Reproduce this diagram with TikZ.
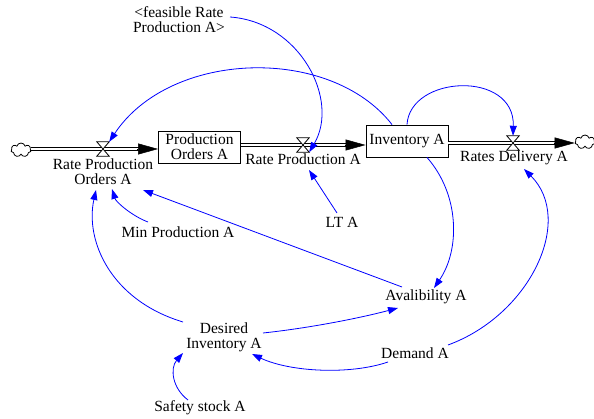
\documentclass[tikz,border=0pt]{standalone}
\usepackage{fontspec}
\setmainfont{Liberation Serif}
\usetikzlibrary{arrows.meta,shapes.symbols}
\definecolor{linkblue}{RGB}{0,0,255}
\tikzset{
  lbl/.style={font=\fontsize{15.5}{15}\selectfont, align=center, inner sep=0pt},
  stock/.style={lbl, draw, line width=0.9pt, fill=white, minimum width=82pt, minimum height=32pt},
  valve/.style={minimum width=12pt, minimum height=14pt, inner sep=0pt},
  pipe/.style={line width=0.9pt, double=white, double distance=1.8pt, shorten >=12pt},
  flowtip/.style={-{Triangle[length=20pt,width=11pt]}, line width=0.5pt},
  link/.style={draw=linkblue, line width=0.8pt, -{Triangle[length=10pt,width=7pt]}},
  source/.style={cloud, cloud puffs=7, draw, line width=0.8pt, fill=white,
    minimum width=20pt, minimum height=14pt, inner sep=0pt, aspect=1.5}
}
\begin{document}
\begin{tikzpicture}[x=1pt,y=-1pt]
\useasboundingbox (0,0) rectangle (594,419);

% stocks, clouds and valves
\node[stock] (pob) at (199.5,147) {Production\\Orders A};
\node[stock] (inv) at (407,141) {Inventory A};
\node[source] (srcL) at (21,150) {};
\node[source] (snkR) at (585,142) {};
\node[valve] (v1) at (103,149) {};
\node[valve] (v2) at (303,145) {};
\node[valve] (v3) at (513,143) {};

% flow pipes
\draw[pipe] (srcL.east |- v1) -- (pob.west |- v1);
\draw[flowtip] (pob.west |- v1) ++(-21,0) -- (pob.west |- v1);
\draw[pipe] (pob.east |- v2) -- (inv.west |- v2);
\draw[flowtip] (inv.west |- v2) ++(-21,0) -- (inv.west |- v2);
\draw[pipe] (inv.east |- v3) -- (snkR.west |- v3);
\draw[flowtip] (snkR.west |- v3) ++(-21,0) -- (snkR.west |- v3);

\foreach \v in {v1,v2,v3}
  \draw[line width=0.8pt, fill=white] (\v.north west) -- (\v.north east)
    -- (\v.south west) -- (\v.south east) -- cycle;

% variable names
\node[lbl] (rpo) at (103,172) {Rate Production\\Orders A};
\node[lbl] (rp) at (303,159) {Rate Production A};
\node[lbl] (rd) at (514,158) {Rates Delivery A};
\node[lbl] (feas) at (179,20) {<feasible Rate\\Production A>};
\node[lbl] (mp) at (178,232) {Min Production A};
\node[lbl] (lt) at (342,222) {LT A};
\node[lbl] (av) at (426,297) {Avalibility A};
\node[lbl] (di) at (224,337) {Desired\\Inventory A};
\node[lbl] (dem) at (415,353) {Demand A};
\node[lbl] (ss) at (200,408) {Safety stock A};

% causal links
\draw[link] ([shift={(51,-3)}]feas.center) .. controls (300,22) and (340,100) .. (v2.south east);
\draw[link] ([xshift=-15pt]inv.north) .. controls (330,45) and (170,50) .. (v1.north east);
\draw[link] (inv.north) .. controls (410,75) and (515,70) .. (v3.north);
\draw[link] ([xshift=20pt]inv.south) .. controls (460,195) and (460,250) .. ([shift={(8,-9)}]av.center);
\draw[link] ([shift={(-24,-10)}]av.center) -- ([shift={(40,18)}]rpo.center);
\draw[link] ([shift={(-30,-10)}]mp.center) .. controls (132,216) and (116,202) .. ([shift={(9,17)}]rpo.center);
\draw[link] ([shift={(-5,-9)}]lt.center) -- ([shift={(6,11)}]rp.center);
\draw[link] ([shift={(-41,-15)}]di.center) .. controls (110,300) and (85,240) .. ([shift={(-7,18)}]rpo.center);
\draw[link] ([shift={(39,-4)}]di.center) .. controls (310,328) and (360,318) .. ([shift={(-28,11)}]av.center);
\draw[link] ([shift={(-27,9)}]dem.center) .. controls (350,375) and (290,372) .. ([shift={(28,17)}]di.center);
\draw[link] ([shift={(33,-8)}]dem.center) .. controls (530,315) and (575,220) .. ([shift={(10,11)}]rd.center);
\draw[link] ([shift={(-12,-8)}]ss.center) .. controls (172,388) and (170,368) .. ([shift={(-41,16)}]di.center);
\end{tikzpicture}
\end{document}
